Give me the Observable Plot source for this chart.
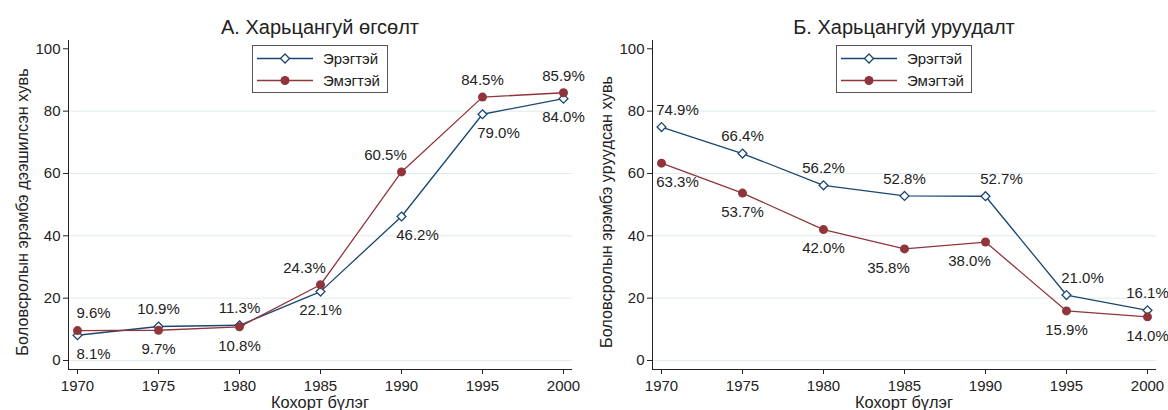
<!DOCTYPE html>
<html>
<head>
<meta charset="utf-8">
<script src="https://cdn.jsdelivr.net/npm/d3@7"></script>
<script src="https://cdn.jsdelivr.net/npm/@observablehq/plot@0.6"></script>
<style>
  html, body { margin: 0; padding: 0; background: #fff; }
  body { font-family: "Liberation Sans", Arial, sans-serif; color: #222; }
  #wrap { position: relative; width: 1168px; height: 410px; display: flex; overflow: hidden; }
  .panel { position: relative; width: 584px; height: 410px; }
  .panel svg.plot { position: absolute; left: 0; top: 0; }
  .title { position: absolute; left: 68px; width: 504px; top: 16px; text-align: center; font-size: 20px; line-height: 22px; color: #222; white-space: nowrap; }
  .xlab { position: absolute; left: 68px; width: 504px; top: 394px; text-align: center; font-size: 16.4px; line-height: 16px; color: #222; white-space: nowrap; }
  .ylab { position: absolute; left: -178px; width: 400px; top: 202px; height: 20px; line-height: 20px; text-align: center; font-size: 16.3px; color: #222; transform: rotate(-90deg); white-space: nowrap; }
  .legend { position: absolute; left: 252px; top: 45px; }
</style>
</head>
<body>
<div id="wrap"></div>
<script>
// ---- data ----
const years = [1970, 1975, 1980, 1985, 1990, 1995, 2000];
const seriesNames = ["Эрэгтэй", "Эмэгтэй"];
const riseMale   = [8.1, 10.9, 11.3, 22.1, 46.2, 79.0, 84.0];
const riseFemale = [9.6, 9.7, 10.8, 24.3, 60.5, 84.5, 85.9];
const fallMale   = [74.9, 66.4, 56.2, 52.8, 52.7, 21.0, 16.1];
const fallFemale = [63.3, 53.7, 42.0, 35.8, 38.0, 15.9, 14.0];
// marker label clock positions (as in Stata mlabvposition)
const riseMaleClock   = [5, 12, 12, 6, 5, 5, 6];
const riseFemaleClock = [1, 6, 6, 11, 11, 12, 12];
const fallMaleClock   = [1, 12, 12, 12, 1, 1, 12];
const fallFemaleClock = [5, 6, 6, 7, 7, 6, 6];
const yTicks = [0, 20, 40, 60, 80, 100];
const gridTicks = [0, 20, 40, 60, 80];
const panelTitles = ["А. Харьцангуй өгсөлт", "Б. Харьцангуй уруудалт"];
const yLabels = ["Боловсролын эрэмбэ дээшилсэн хувь", "Боловсролын эрэмбэ уруудсан хувь"];
const xLabel = "Кохорт бүлэг";

// ---- style ----
const navy = "#1a476f";
const maroon = "#90353b";
const axisColor = "#222";
const gridColor = "#e1eaec";
const fontFamily = '"Liberation Sans", Arial, sans-serif';
const xDomain = [1969.444, 2000.556];
const yDomain = [-2.89, 102.66];
const clockOffsets = { 12: [0, -17], 1: [16, -17], 11: [-16, -17], 6: [0, 19], 5: [16, 19], 7: [-16, 19] };

function makePlot(male, female, maleClock, femaleClock) {
  const rows = [];
  years.forEach((yr, i) => {
    rows.push({ year: yr, value: male[i], sex: seriesNames[0], clock: maleClock[i] });
    rows.push({ year: yr, value: female[i], sex: seriesNames[1], clock: femaleClock[i] });
  });
  const m = rows.filter(d => d.sex === seriesNames[0]);
  const f = rows.filter(d => d.sex === seriesNames[1]);
  const labelMarks = Object.entries(clockOffsets).map(([c, [dx, dy]]) =>
    Plot.text(rows.filter(d => d.clock === +c), {
      x: "year", y: "value", text: d => d.value.toFixed(1) + "%",
      dx, dy, fill: "#222", fontSize: 15
    })
  );
  const svg = Plot.plot({
    width: 584, height: 410,
    marginLeft: 68, marginRight: 12, marginTop: 40, marginBottom: 41,
    style: { fontFamily, fontSize: "15px", color: "#222", background: "transparent", overflow: "visible" },
    x: { domain: xDomain },
    y: { domain: yDomain },
    marks: [
      Plot.gridY(gridTicks, { stroke: gridColor, strokeOpacity: 1 }),
      Plot.ruleX([xDomain[0]], { stroke: axisColor, strokeWidth: 1 }),
      Plot.ruleY([yDomain[0]], { stroke: axisColor, strokeWidth: 1 }),
      Plot.axisY(yTicks, { tickSize: 5, tickPadding: 3, label: null, color: axisColor, fontSize: 15 }),
      Plot.axisX(years, { tickSize: 5, tickPadding: 6, tickFormat: d => String(d), label: null, color: axisColor, fontSize: 15 }),
      Plot.line(m, { x: "year", y: "value", stroke: navy, strokeWidth: 1.3 }),
      Plot.dot(m, { x: "year", y: "value", symbol: "diamond2", r: 4, stroke: navy, fill: "white", strokeWidth: 1.3 }),
      Plot.line(f, { x: "year", y: "value", stroke: maroon, strokeWidth: 1.3 }),
      Plot.dot(f, { x: "year", y: "value", symbol: "circle", r: 4.5, fill: maroon, stroke: "none" }),
      ...labelMarks
    ]
  });
  svg.classList.add("plot");
  return svg;
}

function legendSVG() {
  const d = 4.5;
  return `<svg width="137" height="49" xmlns="http://www.w3.org/2000/svg" style="display:block">
    <rect x="0.5" y="0.5" width="135" height="47" fill="white" stroke="#555" stroke-width="1"/>
    <line x1="5" x2="61" y1="13.5" y2="13.5" stroke="${navy}" stroke-width="1.3"/>
    <polygon points="33,${13.5 - d} ${33 + d},13.5 33,${13.5 + d} ${33 - d},13.5" fill="white" stroke="${navy}" stroke-width="1.3"/>
    <text x="71" y="13.5" dy="0.35em" font-size="15" fill="#222" font-family='${fontFamily}'>${seriesNames[0]}</text>
    <line x1="5" x2="61" y1="35.5" y2="35.5" stroke="${maroon}" stroke-width="1.3"/>
    <circle cx="33" cy="35.5" r="4.5" fill="${maroon}"/>
    <text x="71" y="35.5" dy="0.35em" font-size="15" fill="#222" font-family='${fontFamily}'>${seriesNames[1]}</text>
  </svg>`;
}

const wrap = document.getElementById("wrap");
const configs = [
  [riseMale, riseFemale, riseMaleClock, riseFemaleClock],
  [fallMale, fallFemale, fallMaleClock, fallFemaleClock]
];
configs.forEach((cfg, k) => {
  const panel = document.createElement("div");
  panel.className = "panel";
  panel.appendChild(makePlot(...cfg));
  const t = document.createElement("div"); t.className = "title"; t.textContent = panelTitles[k]; panel.appendChild(t);
  const yl = document.createElement("div"); yl.className = "ylab"; yl.textContent = yLabels[k]; panel.appendChild(yl);
  const xl = document.createElement("div"); xl.className = "xlab"; xl.textContent = xLabel; panel.appendChild(xl);
  const lg = document.createElement("div"); lg.className = "legend"; lg.innerHTML = legendSVG(); panel.appendChild(lg);
  wrap.appendChild(panel);
});
</script>
</body>
</html>
